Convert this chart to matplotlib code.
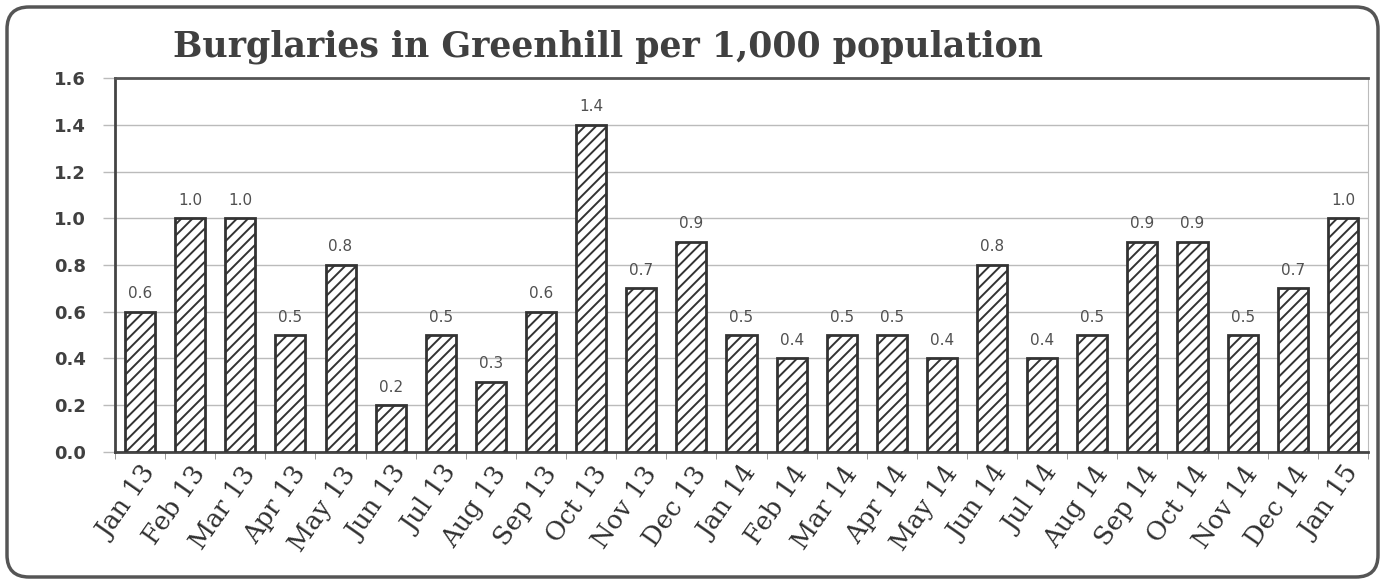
import matplotlib
matplotlib.use("Agg")
import matplotlib.pyplot as plt
from matplotlib.patches import FancyBboxPatch
import numpy as np

months = ["Jan 13", "Feb 13", "Mar 13", "Apr 13", "May 13", "Jun 13", "Jul 13",
          "Aug 13", "Sep 13", "Oct 13", "Nov 13", "Dec 13", "Jan 14", "Feb 14",
          "Mar 14", "Apr 14", "May 14", "Jun 14", "Jul 14", "Aug 14", "Sep 14",
          "Oct 14", "Nov 14", "Dec 14", "Jan 15"]
burglaries = [0.6, 1.0, 1.0, 0.5, 0.8, 0.2, 0.5, 0.3, 0.6, 1.4, 0.7, 0.9, 0.5,
              0.4, 0.5, 0.5, 0.4, 0.8, 0.4, 0.5, 0.9, 0.9, 0.5, 0.7, 1.0]
y_ticks = [0.0, 0.2, 0.4, 0.6, 0.8, 1.0, 1.2, 1.4, 1.6]

plt.rcParams['hatch.linewidth'] = 1.4
plt.rcParams['hatch.color'] = '#333333'

fig = plt.figure(figsize=(13.84, 5.8), dpi=100)

# rounded frame round the whole chart (drawn in pixels)
frame = FancyBboxPatch((7, 3), 1371, 570, boxstyle="round,pad=0,rounding_size=22",
                       transform=None, fill=False, edgecolor='#555555', linewidth=2.5)
fig.patches.append(frame)

ax = fig.add_axes([0.0831, 0.2207, 0.9053, 0.6448])

x = np.arange(len(months))
ax.bar(x, burglaries, width=0.6, color='white', edgecolor='#333333',
       linewidth=2, hatch='///', zorder=3)

# value labels above bars
for xi, v in zip(x, burglaries):
    ax.text(xi, v + 0.045, f"{v:.1f}", ha='center', va='bottom',
            fontsize=11, color='#505050', family='DejaVu Sans')

ax.set_xlim(-0.5, len(months) - 0.5)
ax.set_ylim(0, 1.6)
ax.set_yticks(y_ticks)
ax.set_yticklabels([f"{t:.1f}" for t in y_ticks], fontsize=13, fontweight='bold',
                   color='#404040', family='DejaVu Sans')
ax.grid(axis='y', color='#bbbbbb', linewidth=1, zorder=0)
ax.tick_params(axis='y', length=9, width=1, color='#bbbbbb', pad=12)

ax.set_xticks(x)
ax.set_xticklabels(months, rotation=55, ha='right', rotation_mode='anchor',
                   fontsize=18.5, color='#303030', family='DejaVu Serif')
ax.tick_params(axis='x', length=0, pad=7)
ax.set_xticks(np.arange(-0.5, len(months), 1), minor=True)
ax.tick_params(axis='x', which='minor', length=5, color='#888888')

ax.spines['left'].set_color('#444444')
ax.spines['left'].set_linewidth(2)
ax.spines['bottom'].set_color('#444444')
ax.spines['bottom'].set_linewidth(2)
ax.spines['top'].set_color('#555555')
ax.spines['top'].set_linewidth(2)
ax.spines['right'].set_color('#bbbbbb')

fig.text(0.439, 0.92, "Burglaries in Greenhill per 1,000 population", ha='center',
         va='center', fontsize=25, fontweight='bold', color='#404040', family='DejaVu Serif')

fig.savefig("out.png", dpi=100)
